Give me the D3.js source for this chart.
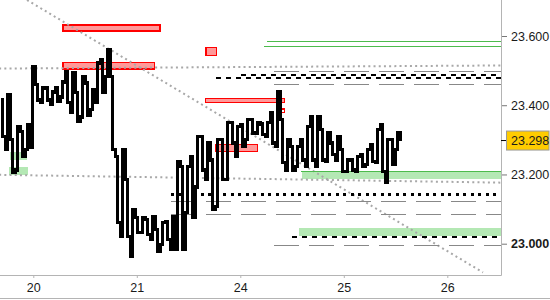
<!DOCTYPE html>
<html>
<head>
<meta charset="utf-8">
<script src="https://cdn.jsdelivr.net/npm/d3@7"></script>
<style>
body{margin:0;background:#fff}
svg{display:block;font-family:"Liberation Sans",Arial,sans-serif}
</style>
</head>
<body>
<svg id="chart" width="550" height="300"></svg>
<script>
let dayLabels = ['20','21','24','25','26'];
let priceTicks = [23.0, 23.2, 23.4, 23.6];
let lastPrice = 23.298;

// price columns (session units on x)
let barStart = -0.3217, barStep = 0.0483;
let barHigh = [23.415,23.430,23.300,23.338,23.324,23.343,23.511,23.459,23.450,23.450,
    23.438,23.450,23.467,23.496,23.493,23.436,23.482,23.464,23.444,23.522,
    23.531,23.560,23.482,23.251,23.271,23.185,23.098,23.075,23.075,23.069,
    23.078,23.041,23.061,23.064,23.078,23.237,23.222,23.222,23.251,23.309,
    23.309,23.291,23.242,23.300,23.300,23.349,23.349,23.338,23.343,23.358,
    23.358,23.349,23.346,23.349,23.378,23.438,23.358,23.300,23.280,23.280,
    23.300,23.338,23.366,23.366,23.329,23.320,23.291,23.309,23.271,23.242,
    23.242,23.251,23.257,23.271,23.286,23.329,23.343,23.300,23.300,23.320];
let barLow = [23.309,23.271,23.205,23.213,23.251,23.271,23.277,23.415,23.407,23.415,
    23.401,23.410,23.424,23.407,23.378,23.352,23.366,23.372,23.387,23.407,
    23.436,23.482,23.271,23.061,23.020,23.020,22.963,23.032,23.032,23.026,
    23.012,22.977,22.997,23.012,22.983,22.983,22.983,23.090,23.075,23.164,
    23.213,23.185,23.098,23.107,23.185,23.185,23.291,23.251,23.280,23.300,
    23.320,23.320,23.315,23.309,23.291,23.280,23.234,23.213,23.213,23.222,
    23.242,23.222,23.242,23.222,23.242,23.237,23.257,23.242,23.208,23.208,
    23.213,23.208,23.222,23.228,23.237,23.234,23.208,23.176,23.228,23.271];

// levels: price + session where it starts (runs to right edge)
let greenLevels = [23.585, 23.570, 23.211];
let greenLevelStart = [2.26, 2.23, 2.59];
let blackDashLevels = [23.490, 23.481, 23.023];
let blackDashStart = [2.01, 1.77, 2.50];
let blackDotLevels = [23.143];
let blackDotStart = [1.33];
let grayDashLevels = [23.499, 23.461, 23.123, 23.086, 22.997];
let grayDashStart = [2.33, 2.33, 1.33, 1.33, 2.33];

// zones [t0, t1, low, high]
let redZones = [[0.287,1.224,23.615,23.632],[0.287,1.173,23.504,23.524],[1.668,1.768,23.544,23.567],
    [1.666,2.429,23.408,23.420],[1.762,2.168,23.266,23.286]];
let redOutlineZones = [[2.355,2.429,23.379,23.389]];
let greenZones = [[-0.235,-0.051,23.199,23.222],[-0.225,-0.061,23.242,23.266],
    [2.593,4.6,23.186,23.211],[2.567,4.6,23.023,23.046]];

// trend lines [t0, p0, t1, p1]
let trendLines = [[-0.33,23.506,4.6,23.515],[-0.061,23.704,4.345,22.917],[-0.33,23.199,4.6,23.176]];

let W = 550, H = 300, plotR = 501, plotB = 275;
let svg = d3.select('#chart');

let x = d3.scaleLinear().domain([0,4]).range([33.3,447.3]);
let y = d3.scaleLinear().domain([23.0,23.6]).range([243.7,36]);

svg.append('defs').append('clipPath').attr('id','plot')
    .append('rect').attr('x',0).attr('y',0).attr('width',plotR).attr('height',plotB);

let g = svg.append('g').attr('clip-path','url(#plot)');

// zones
g.selectAll('.gz').data(greenZones).enter().append('rect')
    .attr('x',d=>x(d[0])).attr('width',d=>x(d[1])-x(d[0]))
    .attr('y',d=>y(d[3])).attr('height',d=>y(d[2])-y(d[3]))
    .attr('fill','#b4e8b4').attr('shape-rendering','crispEdges');

g.selectAll('.rz').data(redZones).enter().append('rect')
    .attr('x',d=>x(d[0])).attr('width',d=>x(d[1])-x(d[0]))
    .attr('y',d=>y(d[3])).attr('height',d=>y(d[2])-y(d[3]))
    .attr('fill','rgba(255,70,70,0.55)').attr('stroke','#ff0000').attr('stroke-width',1.5)
    .attr('shape-rendering','crispEdges');

g.selectAll('.ro').data(redOutlineZones).enter().append('rect')
    .attr('x',d=>x(d[0])).attr('width',d=>x(d[1])-x(d[0]))
    .attr('y',d=>y(d[3])).attr('height',d=>y(d[2])-y(d[3]))
    .attr('fill','none').attr('stroke','#ff0000').attr('stroke-width',1.5)
    .attr('shape-rendering','crispEdges');

// trend lines
g.selectAll('.tl').data(trendLines).enter().append('line')
    .attr('x1',d=>x(d[0])).attr('y1',d=>y(d[1])).attr('x2',d=>x(d[2])).attr('y2',d=>y(d[3]))
    .attr('stroke','#a8a8a8').attr('stroke-width',2).attr('stroke-dasharray','2,3.2');

function levels(vals, starts, color, width, dash){
    g.append('g').selectAll('line').data(vals).enter().append('line')
        .attr('x1',(d,i)=>x(starts[i])).attr('x2',plotR)
        .attr('y1',d=>Math.round(y(d))+0.5).attr('y2',d=>Math.round(y(d))+0.5)
        .attr('stroke',color).attr('stroke-width',width)
        .attr('stroke-dasharray',dash).attr('shape-rendering','crispEdges');
}
levels(grayDashLevels, grayDashStart, '#888', 1, '25,10');
levels(greenLevels, greenLevelStart, '#4cbb4c', 1, null);
levels(blackDashLevels, blackDashStart, '#000', 2, '5,5');
levels(blackDotLevels, blackDotStart, '#000', 3, '3,4.5');

// price line, stepped through each column's high and low
let pts = [];
for(let i = 0; i < barHigh.length; i++){
    let a = barStart + (i+0.1)*barStep, b = barStart + (i+0.55)*barStep;
    let prev = pts.length ? pts[pts.length-1][1] : barHigh[i];
    if(Math.abs(prev-barHigh[i]) <= Math.abs(prev-barLow[i])){
        pts.push([a,barHigh[i]]); pts.push([b,barLow[i]]);
    }else{
        pts.push([a,barLow[i]]); pts.push([b,barHigh[i]]);
    }
}
pts.push([barStart + (barHigh.length+0.1)*barStep, lastPrice]);

g.append('path').datum(pts)
    .attr('d', d3.line().x(d=>x(d[0])).y(d=>y(d[1])).curve(d3.curveStepAfter))
    .attr('fill','none').attr('stroke','#000').attr('stroke-width',3.2)
    .attr('shape-rendering','crispEdges');

// axes
let axisColor = '#b4b4b4';
let yAxis = svg.append('g').attr('transform','translate('+plotR+',0)')
    .call(d3.axisRight(y).tickValues(priceTicks).tickFormat(d3.format('.3f')).tickSize(6).tickPadding(4));
yAxis.select('.domain').remove();
yAxis.selectAll('line').attr('stroke','#777');
yAxis.selectAll('text').attr('font-size','12.5px').attr('fill','#1a1a1a')
    .attr('font-family','"Liberation Sans",Arial,sans-serif')
    .attr('font-weight',d=>d===23.0?'bold':'normal');

let xAxis = svg.append('g').attr('transform','translate(0,'+plotB+')')
    .call(d3.axisBottom(x).tickValues([0,1,2,3,4]).tickFormat(i=>dayLabels[i]).tickSize(3).tickPadding(5));
xAxis.select('.domain').remove();
xAxis.selectAll('line').attr('stroke',axisColor);
xAxis.selectAll('text').attr('font-size','12.5px').attr('fill','#1a1a1a')
    .attr('font-family','"Liberation Sans",Arial,sans-serif');

svg.append('line').attr('x1',plotR+0.5).attr('x2',plotR+0.5).attr('y1',0).attr('y2',plotB+0.5)
    .attr('stroke',axisColor);
svg.append('line').attr('x1',0).attr('x2',plotR+0.5).attr('y1',plotB+0.5).attr('y2',plotB+0.5)
    .attr('stroke',axisColor);
svg.append('line').attr('x1',0).attr('x2',W).attr('y1',298.5).attr('y2',298.5)
    .attr('stroke',axisColor);

// last price marker
let yl = y(lastPrice);
svg.append('line').attr('x1',plotR).attr('x2',plotR+6).attr('y1',yl).attr('y2',yl).attr('stroke','#000');
svg.append('rect').attr('x',506.5).attr('y',yl-9.5).attr('width',42.5).attr('height',19)
    .attr('fill','#ffcc00').attr('stroke','#999');
svg.append('text').attr('x',511).attr('y',yl).attr('dy','0.35em')
    .attr('font-size','12.5px').attr('fill','#1a1a1a').text(d3.format('.3f')(lastPrice));
</script>
</body>
</html>
